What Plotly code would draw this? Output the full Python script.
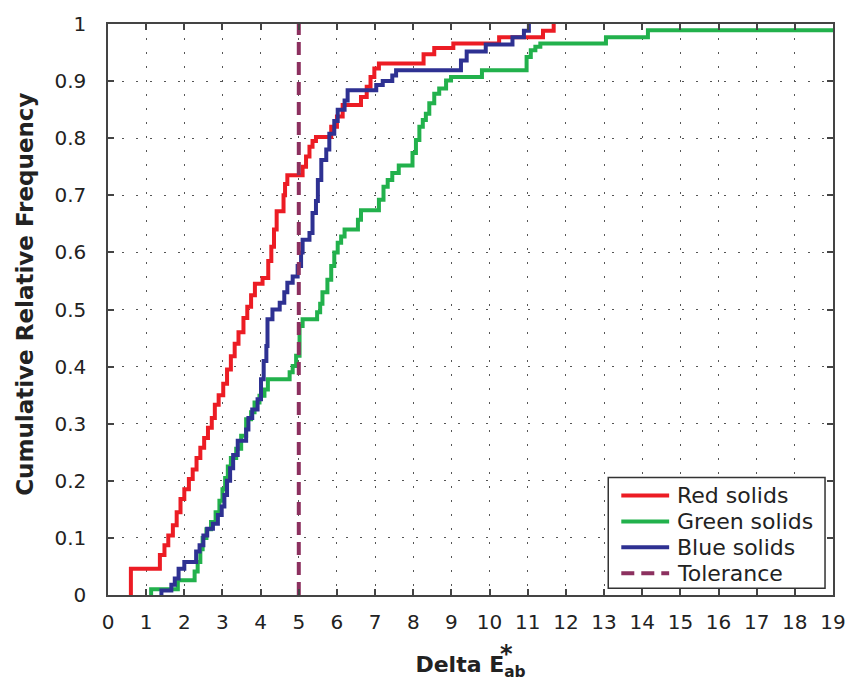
import plotly.graph_objects as go

# ---------------- data ----------------
# each series: x where the cumulative curve jumps, and level after the jump
red_x = [0.60, 1.36, 1.48, 1.58, 1.70, 1.80, 1.90, 2.00, 2.12, 2.22, 2.32, 2.42,
         2.52, 2.62, 2.72, 2.80, 2.90, 3.02, 3.12, 3.22, 3.32, 3.42, 3.55, 3.65,
         3.75, 3.85, 4.05, 4.20, 4.28, 4.35, 4.42, 4.60, 4.64, 4.70, 5.10, 5.19,
         5.28, 5.36, 5.45, 5.85, 6.00, 6.15, 6.63, 6.78, 6.88, 6.98, 7.10, 8.27,
         8.55, 9.05, 10.25, 11.40, 11.68]
red_y = [0.046, 0.070, 0.087, 0.104, 0.122, 0.145, 0.168, 0.185, 0.203, 0.220, 0.240, 0.258,
         0.275, 0.293, 0.310, 0.333, 0.350, 0.370, 0.395, 0.418, 0.440, 0.460, 0.485, 0.505,
         0.525, 0.545, 0.555, 0.585, 0.610, 0.640, 0.672, 0.700, 0.720, 0.735, 0.750, 0.768,
         0.785, 0.795, 0.802, 0.820, 0.838, 0.858, 0.872, 0.890, 0.907, 0.922, 0.931, 0.947,
         0.958, 0.966, 0.977, 0.988, 1.000]

blue_x = [1.40, 1.66, 1.75, 1.85, 2.00, 2.31, 2.40, 2.50, 2.60, 2.75, 2.88, 2.98,
          3.05, 3.12, 3.20, 3.28, 3.40, 3.62, 3.68, 3.78, 3.92, 4.01, 4.08, 4.15,
          4.18, 4.31, 4.50, 4.62, 4.70, 4.84, 4.97, 5.06, 5.10, 5.28, 5.36, 5.45,
          5.50, 5.59, 5.72, 5.80, 5.93, 6.02, 6.20, 6.28, 7.03, 7.20, 7.45, 7.55,
          9.25, 9.40, 9.90, 10.60, 10.90, 11.03]
blue_y = [0.008, 0.018, 0.029, 0.046, 0.058, 0.076, 0.087, 0.104, 0.116, 0.125, 0.140, 0.155,
          0.175, 0.200, 0.222, 0.245, 0.270, 0.290, 0.310, 0.325, 0.343, 0.378, 0.410, 0.436,
          0.483, 0.500, 0.512, 0.530, 0.547, 0.558, 0.576, 0.600, 0.622, 0.634, 0.669, 0.690,
          0.727, 0.762, 0.780, 0.808, 0.830, 0.850, 0.866, 0.884, 0.893, 0.900, 0.910, 0.919,
          0.936, 0.952, 0.964, 0.977, 0.988, 1.000]

green_x = [1.13, 1.83, 2.27, 2.35, 2.42, 2.48, 2.58, 2.70, 2.82, 2.92, 3.00, 3.07,
           3.14, 3.22, 3.36, 3.49, 3.62, 3.75, 3.84, 3.97, 4.10, 4.19, 4.76, 4.84,
           4.93, 5.02, 5.10, 5.48, 5.56, 5.62, 5.75, 5.85, 5.93, 6.02, 6.11, 6.20,
           6.55, 6.63, 7.10, 7.22, 7.33, 7.45, 7.62, 7.98, 8.07, 8.16, 8.25, 8.33,
           8.42, 8.55, 8.68, 8.86, 8.99, 9.80, 10.97, 11.08, 11.20, 11.33, 13.05, 14.15]
green_y = [0.010, 0.026, 0.041, 0.058, 0.080, 0.100, 0.115, 0.128, 0.145, 0.165, 0.185, 0.205,
           0.225, 0.240, 0.256, 0.279, 0.308, 0.320, 0.337, 0.349, 0.360, 0.378, 0.390, 0.401,
           0.419, 0.471, 0.483, 0.495, 0.510, 0.530, 0.552, 0.576, 0.600, 0.617, 0.628, 0.640,
           0.657, 0.674, 0.692, 0.715, 0.727, 0.739, 0.752, 0.774, 0.797, 0.820, 0.832, 0.843,
           0.861, 0.878, 0.887, 0.901, 0.907, 0.919, 0.942, 0.954, 0.960, 0.966, 0.977, 0.989]

tolerance = 5.0
x_max = 19
x_ticks = list(range(0, 20))
y_ticks = [0, 0.1, 0.2, 0.3, 0.4, 0.5, 0.6, 0.7, 0.8, 0.9, 1]
y_tick_text = ["0", "0.1", "0.2", "0.3", "0.4", "0.5", "0.6", "0.7", "0.8", "0.9", "1"]

names = ["Red solids", "Green solids", "Blue solids", "Tolerance"]
colors = ["#ec1c24", "#22b14c", "#2e3192", "#8c305f"]
dashes = ["solid", "solid", "solid", "13px,7px"]
y_title = "Cumulative Relative Frequency"

FONT = "DejaVu Sans"
TXT = "#222"


def steps(xs, ys, x_end=None):
    X = [xs[0]] + list(xs)
    Y = [0] + list(ys)
    if x_end is not None:
        X.append(x_end)
        Y.append(ys[-1])
    return X, Y


fig = go.Figure()
series = [(red_x, red_y, None), (green_x, green_y, x_max), (blue_x, blue_y, None)]
for (xs, ys, xe), nm, col in zip(series, names[:3], colors[:3]):
    X, Y = steps(xs, ys, xe)
    fig.add_trace(go.Scatter(x=X, y=Y, mode="lines", name=nm, line_shape="hv",
                             line=dict(color=col, width=4)))

fig.add_trace(go.Scatter(x=[tolerance, tolerance], y=[0, 1], mode="lines", name=names[3],
                         line=dict(color=colors[3], width=4, dash=dashes[3])))

axis_common = dict(showline=True, linecolor="#444", linewidth=1.5, mirror="ticks",
                   ticks="inside", ticklen=6, tickcolor="#444", tickwidth=1.5,
                   showgrid=True, gridcolor="#555", gridwidth=1, griddash="2px,12px",
                   zeroline=False, tickfont=dict(family=FONT, size=20, color=TXT))

fig.update_xaxes(range=[0, x_max], tickvals=x_ticks, ticklabelstandoff=8,
                 title=dict(text="Delta E<sub>ab</sub>", standoff=24,
                            font=dict(family=FONT, size=22, color=TXT, weight="bold")),
                 **axis_common)
fig.update_yaxes(range=[0, 1], tickvals=y_ticks, ticktext=y_tick_text, ticklabelstandoff=16,
                 **axis_common)

# y-axis title (placed as rotated text so it sits where the reference has it)
fig.add_annotation(text="<b>" + y_title + "</b>", xref="paper", yref="paper",
                   x=-0.1143, y=0.526, xanchor="center", yanchor="middle", textangle=-90,
                   showarrow=False, font=dict(family=FONT, size=23, color=TXT))

# superscript star of the x title
fig.add_annotation(text="<b>*</b>", xref="paper", yref="paper", x=0.549, y=-0.103,
                   xanchor="center", yanchor="middle", showarrow=False,
                   font=dict(family=FONT, size=24, color=TXT))

# ---- legend box (drawn by hand to match the compact row spacing) ----
leg_x0, leg_x1, leg_y0, leg_y1 = 0.690, 0.989, 0.012, 0.2056
row_y = [0.1742, 0.1289, 0.0836, 0.0383]
fig.add_shape(type="rect", xref="paper", yref="paper", x0=leg_x0, x1=leg_x1,
              y0=leg_y0, y1=leg_y1, fillcolor="white", line=dict(color="#333", width=1.5),
              layer="above")
for nm, col, ds, yy in zip(names, colors, dashes, row_y):
    fig.add_shape(type="line", xref="paper", yref="paper", x0=0.708, x1=0.774, y0=yy, y1=yy,
                  line=dict(color=col, width=4, dash=ds), layer="above")
    fig.add_annotation(text=nm, xref="paper", yref="paper", x=0.783, y=yy, xanchor="left",
                       yanchor="middle", showarrow=False, height=25, borderpad=0,
                       font=dict(family=FONT, size=22, color=TXT))

fig.update_layout(
    width=858, height=685,
    margin=dict(l=108, r=24, t=23, b=88),
    plot_bgcolor="white", paper_bgcolor="white",
    showlegend=False,
)

fig.write_html("out.html")
